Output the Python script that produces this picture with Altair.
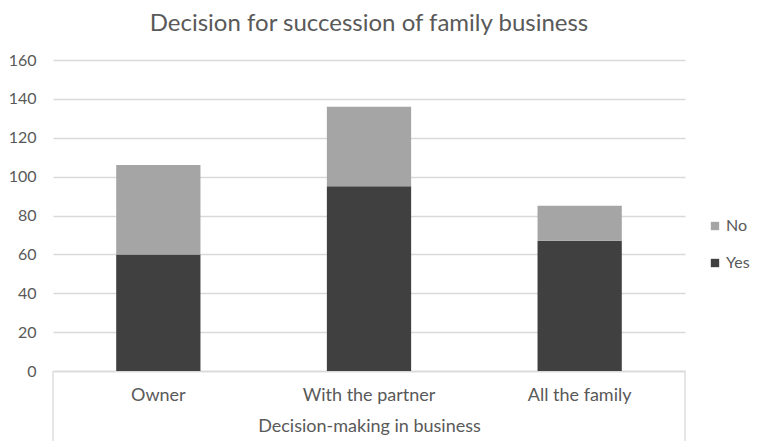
import altair as alt
import pandas as pd

categories = ["Owner", "With the partner", "All the family"]
yes_values = [60, 95, 67]
no_values = [46, 41, 18]
series = ["No", "Yes"]

rows = []
for c, y, n in zip(categories, yes_values, no_values):
    rows.append({"cat": c, "series": "Yes", "value": y, "ord": 0})
    rows.append({"cat": c, "series": "No", "value": n, "ord": 1})
df = pd.DataFrame(rows)

W, H = 632, 311
FONT = "Lato"
GREY = "#595959"

bars = alt.Chart(df).mark_bar().encode(
    x=alt.X("cat:N", sort=categories, title="Decision-making in business",
            scale=alt.Scale(paddingInner=0.6, paddingOuter=0.3),
            axis=alt.Axis(labelAngle=0, labelFontSize=18, labelColor=GREY, labelFont=FONT,
                          labelPadding=15, ticks=False, domainColor="#d9d9d9", domainWidth=1.3,
                          titleFont=FONT, titleFontSize=18, titleColor=GREY,
                          titleFontWeight="normal", titlePadding=13)),
    y=alt.Y("value:Q", stack="zero", title=None,
            scale=alt.Scale(domain=[0, 160]),
            axis=alt.Axis(values=list(range(0, 161, 20)), labelFontSize=16, labelColor=GREY,
                          labelFont=FONT, labelPadding=17, ticks=False, domain=False,
                          gridColor="#d9d9d9", gridWidth=1.3)),
    color=alt.Color("series:N", scale=alt.Scale(domain=series, range=["#a5a5a5", "#404040"]),
                    legend=alt.Legend(title=None, orient="none", legendX=654, legendY=158,
                                      symbolType="square", symbolSize=70, symbolStrokeWidth=0,
                                      labelFont=FONT, labelFontSize=16, labelColor=GREY,
                                      rowPadding=21, labelOffset=3)),
    order=alt.Order("ord:Q"),
)

dummy = pd.DataFrame({"k": [0]})
left_side = alt.Chart(dummy).mark_rule(color="#d9d9d9", strokeWidth=1.3).encode(
    x=alt.value(0), y=alt.value(H), y2=alt.value(H + 90))
right_side = alt.Chart(dummy).mark_rule(color="#d9d9d9", strokeWidth=1.3).encode(
    x=alt.value(W), y=alt.value(H), y2=alt.value(H + 90))

chart = alt.layer(bars, left_side, right_side).properties(
    width=W, height=H,
    title=alt.Title("Decision for succession of family business", font=FONT, fontSize=24,
                    color=GREY, fontWeight="normal", anchor="middle", offset=16),
    padding={"left": 45, "top": 52, "right": 65, "bottom": 70},
    autosize=alt.AutoSizeParams(type="none"),
).configure(font=FONT).configure_view(stroke="transparent", strokeWidth=0)

chart.save("out.html", embed_options={"renderer": "svg", "actions": False})
